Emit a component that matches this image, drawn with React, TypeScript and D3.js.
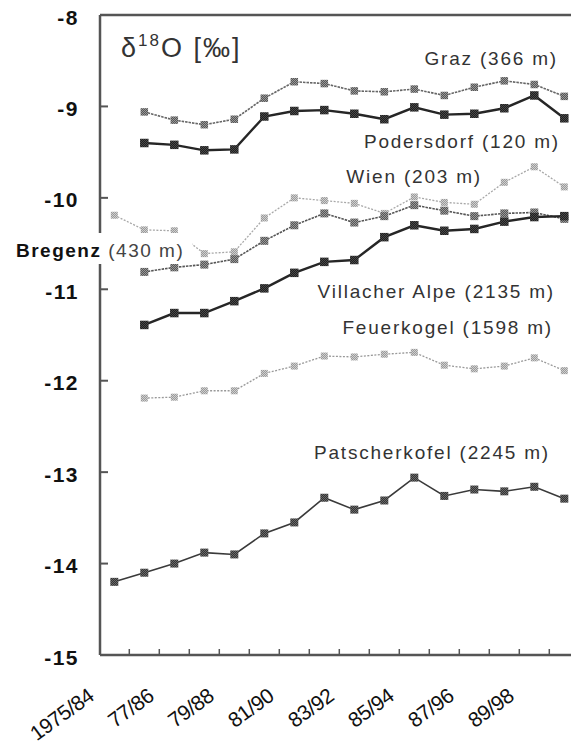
import React from "react";
import * as d3 from "d3";

const periods = ["1975/84","1976/85","1977/86","1978/87","1979/88","1980/89","1981/90","1982/91","1983/92","1984/93","1985/94","1986/95","1987/96","1988/97","1989/98","1990/99"];
const periodLabels = ["1975/84","77/86","79/88","81/90","83/92","85/94","87/96","89/98"];
const yTicks = [-8,-9,-10,-11,-12,-13,-14,-15];

const graz = [null,-9.06,-9.15,-9.20,-9.14,-8.91,-8.73,-8.75,-8.83,-8.84,-8.81,-8.88,-8.79,-8.72,-8.76,-8.89];
const podersdorf = [null,-9.40,-9.42,-9.48,-9.47,-9.11,-9.05,-9.04,-9.08,-9.14,-9.01,-9.09,-9.08,-9.02,-8.88,-9.13];
const wien = [-10.19,-10.35,-10.36,-10.61,-10.59,-10.22,-10.00,-10.03,-10.06,-10.17,-9.99,-10.05,-10.07,-9.83,-9.66,-9.88];
const bregenz = [null,-10.81,-10.76,-10.73,-10.67,-10.47,-10.30,-10.17,-10.27,-10.20,-10.08,-10.14,-10.20,-10.17,-10.16,-10.23];
const villacher = [null,-11.39,-11.26,-11.26,-11.13,-10.99,-10.82,-10.70,-10.68,-10.43,-10.30,-10.36,-10.34,-10.26,-10.21,-10.20];
const feuerkogel = [null,-12.19,-12.18,-12.11,-12.11,-11.92,-11.84,-11.73,-11.74,-11.71,-11.69,-11.83,-11.87,-11.84,-11.75,-11.89];
const patscherkofel = [-14.20,-14.10,-14.00,-13.88,-13.90,-13.67,-13.55,-13.28,-13.41,-13.31,-13.06,-13.26,-13.19,-13.21,-13.16,-13.29];

type Style = { stroke: string; width: number; dash?: string; fill: string; size: number };
const series: { name: string; values: (number | null)[]; style: Style }[] = [
  { name: "Wien", values: wien, style: { stroke: "#a8a8a8", width: 1.3, dash: "2,1.5", fill: "url(#pLight)", size: 7 } },
  { name: "Feuerkogel", values: feuerkogel, style: { stroke: "#999", width: 1.3, dash: "2,1.5", fill: "url(#pLight)", size: 7 } },
  { name: "Graz", values: graz, style: { stroke: "#666", width: 1.6, dash: "2.5,1", fill: "url(#pMed)", size: 7.5 } },
  { name: "Bregenz", values: bregenz, style: { stroke: "#555", width: 1.6, dash: "2.5,1", fill: "url(#pMed)", size: 8 } },
  { name: "Patscherkofel", values: patscherkofel, style: { stroke: "#3a3a3a", width: 1.6, fill: "url(#pDarkMed)", size: 8 } },
  { name: "Podersdorf", values: podersdorf, style: { stroke: "#262626", width: 2.4, fill: "url(#pDark)", size: 8.5 } },
  { name: "Villacher", values: villacher, style: { stroke: "#262626", width: 2.4, fill: "url(#pDark)", size: 8.5 } },
];

const labels = [
  { text: "Graz (366 m)", x: 558, y: 65 },
  { text: "Podersdorf (120 m)", x: 560, y: 148 },
  { text: "Wien (203 m)", x: 482, y: 183 },
  { text: "Villacher Alpe (2135 m)", x: 555, y: 298 },
  { text: "Feuerkogel (1598 m)", x: 553, y: 334 },
  { text: "Patscherkofel (2245 m)", x: 550, y: 459 },
];

const W = 571, H = 744;
const left = 100, top = 15, bottom = 655;

export default function App() {
  const x = d3.scaleLinear().domain([0, 15]).range([114.3, 564.3]);
  const y = d3.scaleLinear().domain([-8, -15]).range([top, bottom]);
  const font = "'Liberation Sans', Arial, Helvetica, sans-serif";
  const line = d3.line<number | null>()
    .defined((d) => d !== null)
    .x((_, i) => x(i))
    .y((d) => y(d as number));
  const tickXs = d3.range(15).map((i) => (x(i) + x(i + 1)) / 2);

  const pattern = (id: string, a: string, b: string) => (
    <pattern id={id} width="2" height="2" patternUnits="userSpaceOnUse">
      <rect width="2" height="2" fill={a} />
      <rect width="1" height="1" fill={b} />
      <rect x="1" y="1" width="1" height="1" fill={b} />
    </pattern>
  );

  return (
    <svg width={W} height={H} style={{ position: "absolute", left: 0, top: 0, background: "#fff" }} fontFamily={font}>
      <defs>
        {pattern("pDark", "#1e1e1e", "#4a4a4a")}
        {pattern("pDarkMed", "#333", "#6a6a6a")}
        {pattern("pMed", "#555", "#999")}
        {pattern("pLight", "#999", "#d0d0d0")}
      </defs>

      {/* frame */}
      <line x1={left} x2={W} y1={top} y2={top} stroke="#555" strokeWidth={2.5} />
      <line x1={left} x2={left} y1={top} y2={bottom} stroke="#555" strokeWidth={2.5} />
      <line x1={left} x2={W} y1={bottom} y2={bottom} stroke="#555" strokeWidth={2.5} />

      {yTicks.map((t) => (
        <g key={t}>
          {t !== -8 && t !== -15 && (
            <line x1={left} x2={left + 8} y1={y(t)} y2={y(t)} stroke="#555" strokeWidth={2} />
          )}
          <text x={79} y={y(t) + 9.5} textAnchor="end" fontSize={21} fontWeight="bold" letterSpacing={1.5} fill="#111">
            {String(t)}
          </text>
        </g>
      ))}

      {tickXs.map((tx, i) => (
        <line key={i} x1={tx} x2={tx} y1={bottom} y2={bottom - 6} stroke="#555" strokeWidth={1.5} />
      ))}

      {periodLabels.map((p, k) => (
        <text key={p} transform={`translate(${x(k * 2) - 19},699) rotate(-36)`} textAnchor="end" fontSize={21} letterSpacing={-0.5} fill="#111">
          {p}
        </text>
      ))}

      {series.map((s) => (
        <g key={s.name}>
          <path d={line(s.values) || ""} fill="none" stroke={s.style.stroke} strokeWidth={s.style.width} strokeDasharray={s.style.dash} />
          {s.values.map((v, i) =>
            v === null ? null : (
              <rect key={i} x={x(i) - s.style.size / 2} y={y(v) - s.style.size / 2} width={s.style.size} height={s.style.size} fill={s.style.fill} />
            )
          )}
        </g>
      ))}

      {/* Bregenz label with white box */}
      <rect x={12} y={233} width={180} height={31} fill="#fff" />
      <text x={16} y={257} fontSize={19} fill="#111" letterSpacing={1.5}>
        <tspan fontWeight="bold">Bregenz</tspan>
        <tspan fill="#444"> (430 m)</tspan>
      </text>

      {labels.map((l) => (
        <text key={l.text} x={l.x} y={l.y} textAnchor="end" fontSize={19} letterSpacing={1.8} fill="#333">
          {l.text}
        </text>
      ))}

      <text x={121} y={57} fontSize={27} fill="#333" letterSpacing={2}>
        δ<tspan fontSize={17} dy={-11}>18</tspan><tspan dy={11}>O [‰]</tspan>
      </text>
    </svg>
  );
}
